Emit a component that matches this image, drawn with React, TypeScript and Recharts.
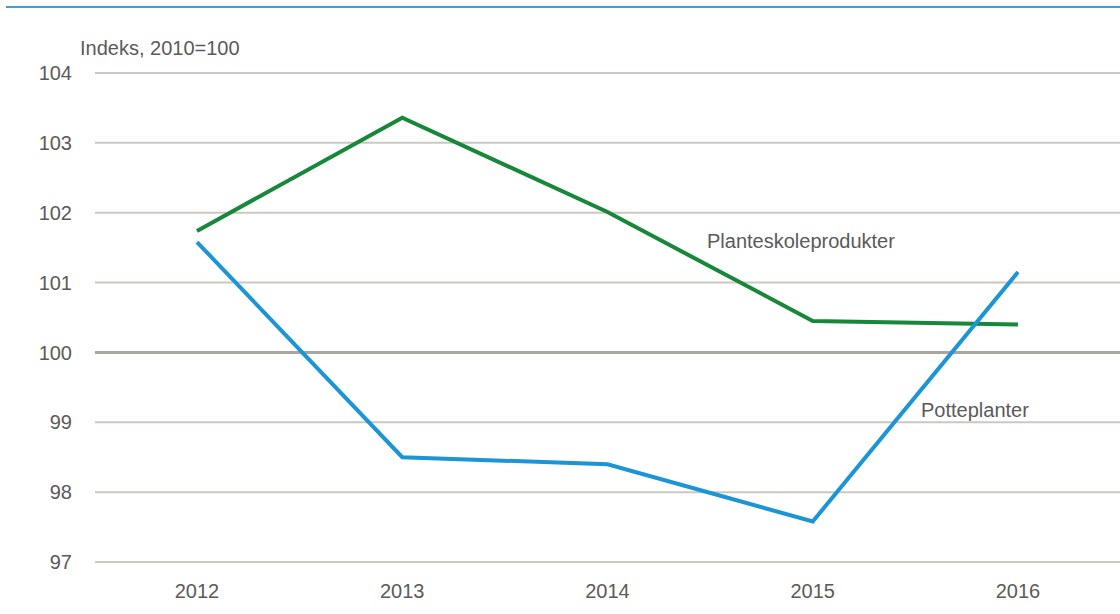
import React from 'react';
import { LineChart, Line, XAxis, YAxis, CartesianGrid, ReferenceLine } from 'recharts';

const years = ['2012', '2013', '2014', '2015', '2016'];
const planteskoleprodukter = [101.74, 103.36, 102.01, 100.45, 100.4];
const potteplanter = [101.58, 98.5, 98.4, 97.58, 101.15];
const yTicks = [97, 98, 99, 100, 101, 102, 103, 104];

const data = years.map((year, i) => ({
  year,
  planteskoleprodukter: planteskoleprodukter[i],
  potteplanter: potteplanter[i],
}));

const font = 'Arial, "Liberation Sans", sans-serif';
const textColor = '#5a5a5a';

const labelStyle: React.CSSProperties = {
  position: 'absolute',
  fontFamily: font,
  fontSize: 20,
  color: textColor,
  lineHeight: '24px',
  whiteSpace: 'nowrap',
};

export default function App() {
  return (
    <div style={{ position: 'absolute', left: 0, top: 0, width: 1120, height: 614, background: '#fff' }}>
      <div style={{ position: 'absolute', left: 6, top: 6, width: 1114, height: 2, background: '#3aa0dc' }} />
      <LineChart width={1120} height={614} data={data} margin={{ top: 73, right: 0, bottom: 0, left: 0 }}>
        <CartesianGrid vertical={false} stroke="#cbc8bf" strokeWidth={2} />
        <XAxis
          dataKey="year"
          axisLine={false}
          tickLine={false}
          tickSize={0}
          tickMargin={22}
          height={52}
          padding={{ left: 102, right: 102 }}
          tick={{ fill: textColor, fontSize: 20, fontFamily: font }}
        />
        <YAxis
          domain={[97, 104]}
          ticks={yTicks}
          axisLine={false}
          tickLine={false}
          tickSize={0}
          tickMargin={23}
          width={95}
          tick={{ fill: textColor, fontSize: 20, fontFamily: font }}
        />
        <ReferenceLine y={100} stroke="#a9a69d" strokeWidth={3} />
        <Line
          type="linear"
          dataKey="planteskoleprodukter"
          stroke="#17873a"
          strokeWidth={4}
          dot={false}
          isAnimationActive={false}
        />
        <Line
          type="linear"
          dataKey="potteplanter"
          stroke="#1b95d6"
          strokeWidth={4}
          dot={false}
          isAnimationActive={false}
        />
      </LineChart>
      <div style={{ ...labelStyle, left: 80, top: 36 }}>Indeks, 2010=100</div>
      <div style={{ ...labelStyle, left: 707, top: 229 }}>Planteskoleprodukter</div>
      <div style={{ ...labelStyle, left: 921, top: 398 }}>Potteplanter</div>
    </div>
  );
}
